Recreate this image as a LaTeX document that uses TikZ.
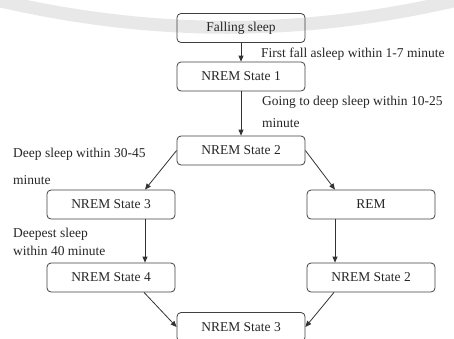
\documentclass[tikz,border=0pt]{standalone}
\usepackage{fontspec}
\newfontfamily\chartfont{Liberation Serif}
\usetikzlibrary{arrows.meta}
\tikzset{
	stagebox/.style={draw=black!75, line width=0.8pt, rounded corners=4pt, minimum width=128pt, minimum height=29pt, inner sep=0pt, text=black!85},
	flowarrow/.style={draw=black!80, line width=0.8pt, -{Triangle[length=6pt, width=5pt]}},
	notetext/.style={anchor=base west, align=left, inner sep=0pt, text=black!85}
}

\begin{document}
\begin{tikzpicture}[x=1pt, y=-1pt, font=\chartfont\fontsize{13.5}{16}\selectfont]
			%%%%% START %%%%%
			\useasboundingbox (0, 0) rectangle (454, 338);
			
			% faint band behind the chart
			\draw[line width=13pt, color=black!9] (-12, -2) .. controls (150, 37) and (304, 37) .. (466, -2);
			
			\node[stagebox] (fall) at (241, 28) {Falling sleep};
			\node[stagebox] (stateone) at (241, 76.5) {NREM State 1};
			\node[stagebox] (statetwo) at (241, 150.5) {NREM State 2};
			\node[stagebox] (statethree) at (111, 204.5) {NREM State 3};
			\node[stagebox] (rem) at (371, 204.5) {REM};
			\node[stagebox] (statefour) at (111, 277.5) {NREM State 4};
			\node[stagebox] (statetwoagain) at (371, 277.5) {NREM State 2};
			\node[stagebox] (statethreeagain) at (241, 327) {NREM State 3};
			
			\draw[flowarrow] (fall) -- (stateone);
			\draw[flowarrow] (stateone) -- (statetwo);
			\draw[flowarrow] (statetwo.west) -- ([xshift=34pt]statethree.north);
			\draw[flowarrow] (statetwo.east) -- ([xshift=-36pt]rem.north);
			\draw[flowarrow] ([xshift=34pt]statethree.south) -- ([xshift=34pt]statefour.north);
			\draw[flowarrow] ([xshift=-36pt]rem.south) -- ([xshift=-36pt]statetwoagain.north);
			\draw[flowarrow] ([xshift=33pt]statefour.south) -- (statethreeagain.west);
			\draw[flowarrow] ([xshift=-37pt]statetwoagain.south) -- (statethreeagain.east);
			
			% notes, anchored at the baseline of their last line
			\node[notetext] (notefall) at (261, 57) {First fall asleep within 1-7 minute};
			\node[notetext] (notedeep) at (262, 127) {Going to deep sleep within 10-25\\[6pt]minute};
			\node[notetext] (notethree) at (13, 184) {Deep sleep within 30-45\\[11pt]minute};
			\node[notetext] (notefour) at (13, 255) {Deepest sleep\\[2pt]within 40 minute};
			
			%%%%% END %%%%%
\end{tikzpicture}
\end{document}
